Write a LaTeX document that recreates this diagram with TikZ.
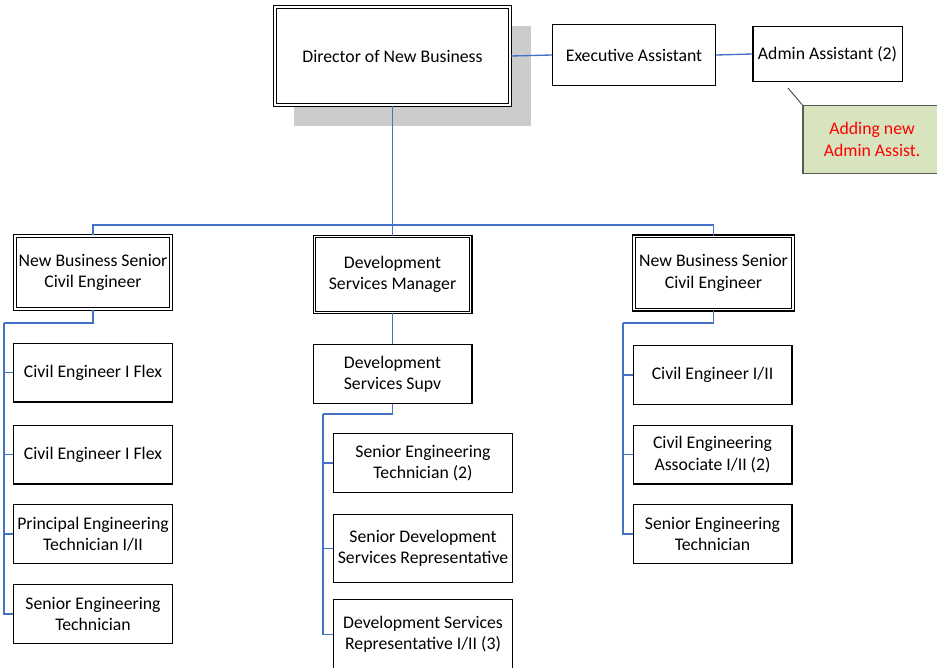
\documentclass[tikz,border=0pt]{standalone}
\usepackage{fontspec}
\setmainfont{Carlito}
\usetikzlibrary{positioning,calc,backgrounds}
\definecolor{orgblue}{RGB}{68,114,196}
\definecolor{notegreen}{RGB}{215,228,189}
\definecolor{shadowgray}{RGB}{204,204,204}
\newcommand{\orgfont}{\fontsize{13.3}{16}\selectfont}
\tikzset{
  box/.style={draw=black,line width=1pt,fill=white,align=center,
    inner sep=0.5pt,font=\orgfont},
  dblbox/.style={box,double,double distance=1.2pt,line width=0.8pt},
  chief/.style={dblbox,minimum width=176.5pt,minimum height=73.7pt},
  lead/.style={dblbox,minimum width=117.2pt,minimum height=55pt},
  staff/.style={box,minimum width=119pt,minimum height=44pt},
  widestaff/.style={box,minimum width=134pt,minimum height=44pt},
  link/.style={draw=orgblue,line width=1pt},
  notebox/.style={draw=black!65,line width=0.9pt,fill=notegreen,
    text=red,align=center,font=\orgfont,minimum width=103.5pt,
    minimum height=51pt},
  noteline/.style={black!80,line width=0.6pt},
}

\begin{document}
\begin{tikzpicture}[x=0.75pt,y=-0.75pt]
  \useasboundingbox (0,0) rectangle (937,667);
  % --- top row ---
  \node[chief] (dir) at (392.5,56) {Director of New Business};
  \node[box,minimum width=122pt,minimum height=45.5pt] (exec) at (634,55)
    {Executive Assistant};
  \node[box,minimum width=112pt,minimum height=41pt] (admin) at (827.5,54)
    {Admin Assistant (2)};
  \node[notebox] (note) at (872,139.5) {Adding new\\Admin Assist.};
  \coordinate (tip) at (788,88);
  \draw[noteline] (note.north west) -- (tip);
  \begin{scope}[on background layer]
    \fill[shadowgray] ([shift={(20,20)}]dir.north west)
      rectangle ([shift={(20,20)}]dir.south east);
  \end{scope}
  \draw[link] (dir.east) -- (exec.west);
  \draw[link] (exec.east) -- (admin.west);

  % --- second row ---
  \node[lead] (leadL) at (93,272.5) {New Business Senior\\Civil Engineer};
  \node[lead,minimum height=57pt] (mgr) at (392.5,274.5)
    {Development\\Services Manager};
  \node[lead,minimum width=119.5pt] (leadR) at (713.5,273)
    {New Business Senior\\Civil Engineer};
  \coordinate (bus) at (392.5,225);
  \draw[link] (dir.south) -- (bus);
  \draw[link] (leadL.north) |- (bus) -| (leadR.north);
  \draw[link] (bus) -- (mgr.north);

  % --- left column ---
  \node[staff] (ceA) at (93,372.5) {Civil Engineer I Flex};
  \node[staff] (ceB) at (93,454.5) {Civil Engineer I Flex};
  \node[staff] (pet) at (93,534) {Principal Engineering\\Technician I/II};
  \node[staff] (setL) at (93,614) {Senior Engineering\\Technician};
  \coordinate (spineL) at (4,323);
  \draw[link] (leadL.south) |- (spineL);
  \foreach \n in {ceA,ceB,pet,setL}
    \draw[link] (spineL) |- (\n.west);

  % --- middle column ---
  \node[staff] (supv) at (392.5,374) {Development\\Services Supv};
  \draw[link] (mgr.south) -- (supv.north);
  \node[widestaff] (setM) at (423,463) {Senior Engineering\\Technician (2)};
  \node[widestaff,minimum height=51pt] (sdsr) at (423,548.5)
    {Senior Development\\Services Representative};
  \node[widestaff,minimum height=52.5pt] (dsr) at (423,634.5)
    {Development Services\\Representative I/II (3)};
  \coordinate (spineM) at (323,414);
  \draw[link] (supv.south) |- (spineM);
  \foreach \n in {setM,sdsr,dsr}
    \draw[link] (spineM) |- (\n.west);

  % --- right column ---
  \node[staff] (ceR) at (712.5,375) {Civil Engineer I/II};
  \node[staff] (cea) at (712.5,454.5) {Civil Engineering\\Associate I/II (2)};
  \node[staff] (setR) at (712.5,534) {Senior Engineering\\Technician};
  \coordinate (spineR) at (623,323);
  \draw[link] (leadR.south) |- (spineR);
  \foreach \n in {ceR,cea,setR}
    \draw[link] (spineR) |- (\n.west);
\end{tikzpicture}
\end{document}
